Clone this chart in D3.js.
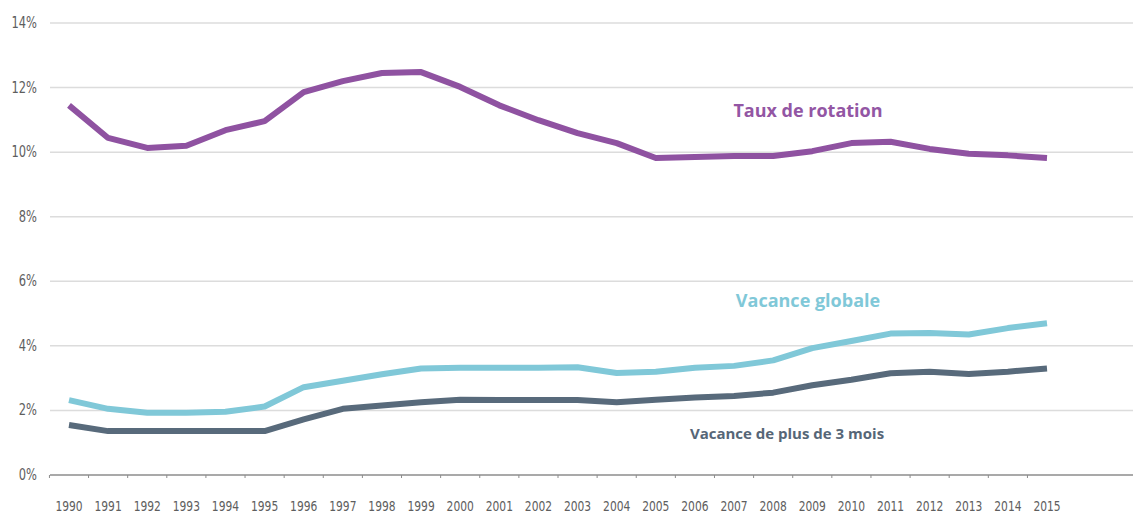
<!DOCTYPE html>
<html>
<head>
<meta charset="utf-8">
<script src="https://cdn.jsdelivr.net/npm/d3@7"></script>
<style>
  body { margin: 0; background: #fff; }
  .tick-y, .tick-x { font-family: "DejaVu Sans", sans-serif; font-stretch: condensed; fill: #5e5e5e; }
  .serie-label { font-family: "Open Sans", "Noto Sans", sans-serif; font-weight: bold; }
</style>
</head>
<body>
<div id="chart"></div>
<script>
var years = [1990, 1991, 1992, 1993, 1994, 1995, 1996, 1997, 1998, 1999, 2000, 2001, 2002,
             2003, 2004, 2005, 2006, 2007, 2008, 2009, 2010, 2011, 2012, 2013, 2014, 2015];
var tauxRotation = [11.45, 10.44, 10.13, 10.2, 10.68, 10.96, 11.86, 12.2, 12.45, 12.48, 12.02, 11.45, 10.99,
                    10.59, 10.28, 9.82, 9.85, 9.88, 9.88, 10.03, 10.28, 10.32, 10.1, 9.95, 9.9, 9.82];
var vacanceGlobale = [2.32, 2.05, 1.93, 1.93, 1.96, 2.12, 2.72, 2.92, 3.12, 3.3, 3.32, 3.32, 3.32,
                      3.34, 3.16, 3.2, 3.32, 3.38, 3.55, 3.93, 4.15, 4.38, 4.4, 4.35, 4.55, 4.7];
var vacance3mois = [1.55, 1.36, 1.36, 1.36, 1.36, 1.36, 1.72, 2.05, 2.15, 2.25, 2.33, 2.32, 2.32,
                    2.32, 2.25, 2.33, 2.4, 2.45, 2.55, 2.78, 2.95, 3.15, 3.2, 3.13, 3.2, 3.3];
var yTicks = [0, 2, 4, 6, 8, 10, 12, 14];

var w = 1133, h = 517;

var svg = d3.select("#chart").append("svg")
    .attr("width", w)
    .attr("height", h);

// x: one point per year, ticks halfway between years
var xScale = d3.scaleLinear()
    .domain([1990, 2015])
    .range([69, 1047]);
var step = xScale(1991) - xScale(1990);

var yScale = d3.scaleLinear()
    .domain([0, 14])
    .range([475, 23]);

// gridlines
svg.selectAll(".grid")
    .data(yTicks.filter(function(d) { return d > 0; }))
    .enter().append("line")
    .attr("class", "grid")
    .attr("x1", 50).attr("x2", w)
    .attr("y1", function(d) { return yScale(d); })
    .attr("y2", function(d) { return yScale(d); })
    .attr("stroke", "#dcdcdc")
    .attr("stroke-width", 1.5);

// baseline
svg.append("line")
    .attr("x1", 50).attr("x2", w)
    .attr("y1", yScale(0)).attr("y2", yScale(0))
    .attr("stroke", "#8c8c8c")
    .attr("stroke-width", 1.5);

// small ticks on the baseline
svg.selectAll(".xtick")
    .data(years)
    .enter().append("line")
    .attr("class", "xtick")
    .attr("x1", function(d) { return xScale(d) - step / 2; })
    .attr("x2", function(d) { return xScale(d) - step / 2; })
    .attr("y1", yScale(0)).attr("y2", yScale(0) + 3)
    .attr("stroke", "#8c8c8c");

// y labels (narrowed to mimic the condensed face)
svg.selectAll(".tick-y")
    .data(yTicks)
    .enter().append("text")
    .attr("class", "tick-y")
    .attr("transform", function(d) { return "translate(37," + (yScale(d) + 5) + ") scale(0.85,1)"; })
    .attr("text-anchor", "end")
    .attr("font-size", "15px")
    .text(function(d) { return d + "%"; });

// x labels
svg.selectAll(".tick-x")
    .data(years)
    .enter().append("text")
    .attr("class", "tick-x")
    .attr("transform", function(d) { return "translate(" + xScale(d) + ",511) scale(0.85,1)"; })
    .attr("text-anchor", "middle")
    .attr("font-size", "14px")
    .text(function(d) { return d; });

// series
var series = [
    { values: tauxRotation, color: "#8f52a1" },
    { values: vacanceGlobale, color: "#80c8d8" },
    { values: vacance3mois, color: "#586a7b" }
];

var line = d3.line()
    .x(function(d, i) { return xScale(years[i]); })
    .y(function(d) { return yScale(d); });

svg.selectAll(".serie")
    .data(series)
    .enter().append("path")
    .attr("class", "serie")
    .attr("d", function(d) { return line(d.values); })
    .attr("fill", "none")
    .attr("stroke", function(d) { return d.color; })
    .attr("stroke-width", 6)
    .attr("stroke-linejoin", "round");

// series labels
svg.append("text")
    .attr("class", "serie-label")
    .attr("x", 808).attr("y", 117)
    .attr("text-anchor", "middle")
    .attr("font-size", "18px")
    .attr("fill", "#9356a4")
    .text("Taux de rotation");

svg.append("text")
    .attr("class", "serie-label")
    .attr("x", 808).attr("y", 307)
    .attr("text-anchor", "middle")
    .attr("font-size", "18px")
    .attr("fill", "#80c8d8")
    .text("Vacance globale");

svg.append("text")
    .attr("class", "serie-label")
    .attr("x", 787).attr("y", 439)
    .attr("text-anchor", "middle")
    .attr("font-size", "15px")
    .attr("fill", "#566677")
    .text("Vacance de plus de 3 mois");
</script>
</body>
</html>
